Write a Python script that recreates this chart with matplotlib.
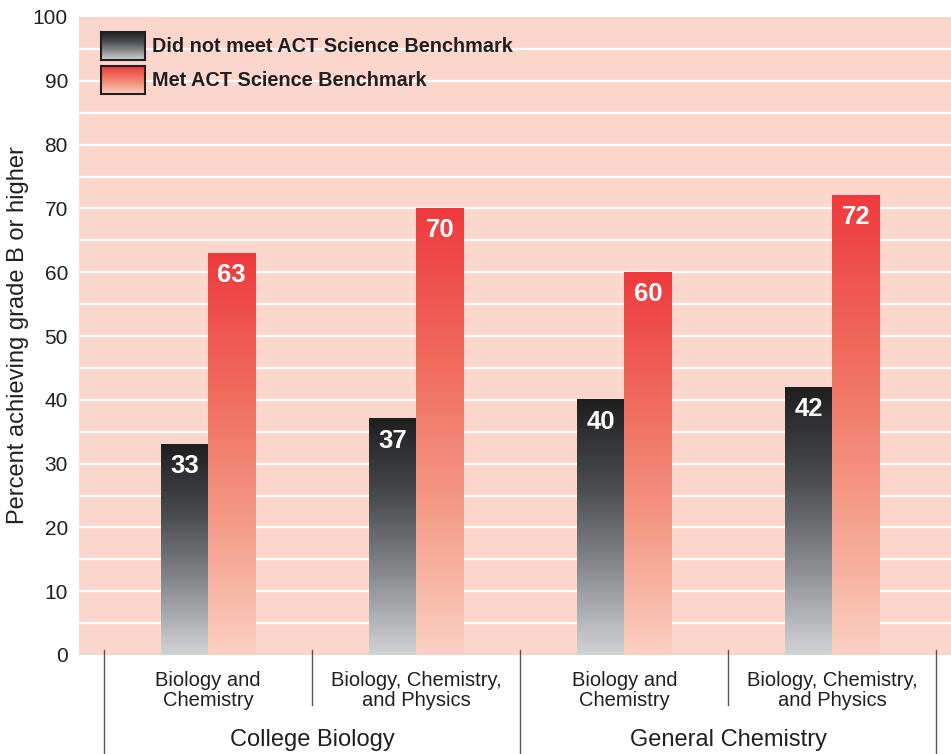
import numpy as np
import matplotlib
matplotlib.use("Agg")
import matplotlib.pyplot as plt
from matplotlib.colors import LinearSegmentedColormap
import matplotlib.transforms as mtransforms

plt.rcParams['font.family'] = ['Liberation Sans', 'DejaVu Sans']

# ---- data ----
groups = ["College Biology", "General Chemistry"]
subcats = ["Biology and\nChemistry", "Biology, Chemistry,\nand Physics",
           "Biology and\nChemistry", "Biology, Chemistry,\nand Physics"]
not_met = [33, 37, 40, 42]
met = [63, 70, 60, 72]
series_names = ["Did not meet ACT Science Benchmark", "Met ACT Science Benchmark"]
yticks = [0, 10, 20, 30, 40, 50, 60, 70, 80, 90, 100]

bg = "#FAD6CC"
text_col = "#231f20"
dark_cmap = LinearSegmentedColormap.from_list("dark", ["#d2d3d5", "#8a8b8e", "#4a4b4d", "#1f1f20"])
red_cmap = LinearSegmentedColormap.from_list("red", ["#fbd0c3", "#f49a85", "#f06a5c", "#ee3a3e"])

W, H = 951, 754
fig = plt.figure(figsize=(W / 100, H / 100), dpi=100)
ax_left, ax_right, ax_top, ax_bot = 79, 951, 17, 655
ax = fig.add_axes([ax_left / W, (H - ax_bot) / H, (ax_right - ax_left) / W, (ax_bot - ax_top) / H])
ax.set_facecolor(bg)

x = np.arange(len(subcats))
w = 0.228

# grid every 5
for yv in np.arange(5, 100, 5):
    ax.axhline(yv, color="white", lw=1.6, zorder=1)

grad = np.linspace(0, 1, 256).reshape(-1, 1)

def gradient_bar(xc, val, cmap):
    ax.imshow(grad, cmap=cmap, origin="lower", aspect="auto",
              extent=(xc - w / 2, xc + w / 2, 0, val), zorder=2, interpolation="bicubic")

for i in range(len(subcats)):
    xd = x[i] - w / 2
    xr = x[i] + w / 2
    gradient_bar(xd, not_met[i], dark_cmap)
    gradient_bar(xr, met[i], red_cmap)
    ax.annotate(f"{not_met[i]}", xy=(xd, not_met[i]), xytext=(0, -7), textcoords="offset points",
                ha="center", va="top", color="white", fontsize=18.5, fontweight="bold", zorder=3)
    ax.annotate(f"{met[i]}", xy=(xr, met[i]), xytext=(0, -7), textcoords="offset points",
                ha="center", va="top", color="white", fontsize=18.5, fontweight="bold", zorder=3)

ax.set_xlim(-0.62, 3.57)
ax.set_ylim(0, 100)
ax.set_yticks(yticks)
ax.set_yticklabels([str(t) for t in yticks], fontsize=15, color=text_col)
ax.tick_params(axis="y", length=0, pad=8)
ax.set_xticks([])
for s in ax.spines.values():
    s.set_visible(False)
fig.text(18 / W, (H - 335) / H, "Percent achieving grade B or higher", rotation=90,
         ha="center", va="center", fontsize=17, color=text_col)

# category separators and labels
trans = mtransforms.blended_transform_factory(ax.transData, ax.transAxes)
for k in range(len(subcats) + 1):
    xs = k - 0.5
    long = (k % 2 == 0)
    y0 = 0.008
    y1 = -0.16 if long else -0.078
    ax.plot([xs, xs], [y0, y1], transform=trans, color="#555555", lw=1.0, clip_on=False, zorder=4)
for i, lab in enumerate(subcats):
    ax.text(x[i], -0.056, lab, transform=trans, ha="center", va="center", fontsize=14.5,
            color=text_col, linespacing=1.05)
for g, name in enumerate(groups):
    ax.text(x[2 * g] + 0.5, -0.133, name, transform=trans, ha="center", va="center",
            fontsize=17, color=text_col)

# legend (manual gradient swatches)
def legend_box(top_px, cmap, label):
    lax = fig.add_axes([101 / W, (H - top_px - 28) / H, 44 / W, 28 / H])
    lax.imshow(grad, cmap=cmap, origin="lower", aspect="auto", extent=(0, 1, 0, 1))
    lax.set_xticks([]); lax.set_yticks([])
    for s in lax.spines.values():
        s.set_color("#231f20"); s.set_linewidth(1.5)
    fig.text(152 / W, (H - top_px - 15) / H, label, ha="left", va="center",
             fontsize=14.3, fontweight="bold", color=text_col)

legend_box(32, dark_cmap, series_names[0])
legend_box(66, red_cmap, series_names[1])

fig.savefig("out.png", dpi=100, facecolor="white")
